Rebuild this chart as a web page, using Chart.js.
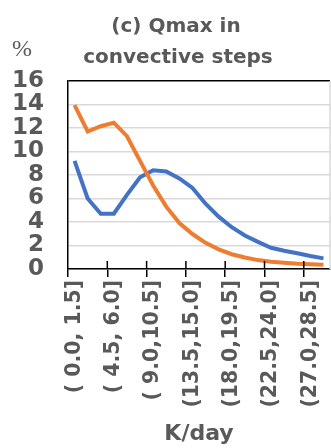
<!DOCTYPE html>
<html>
<head>
<meta charset="utf-8">
<script src="https://cdn.jsdelivr.net/npm/chart.js@4"></script>
<style>
  html, body { margin: 0; padding: 0; background: #fff; }
</style>
</head>
<body>
<canvas id="qmaxChart" width="331" height="448"></canvas>
<script>
const binLabels = [
  '( 0.0, 1.5]', '( 1.5, 3.0]', '( 3.0, 4.5]', '( 4.5, 6.0]', '( 6.0, 7.5]',
  '( 7.5, 9.0]', '( 9.0,10.5]', '(10.5,12.0]', '(12.0,13.5]', '(13.5,15.0]',
  '(15.0,16.5]', '(16.5,18.0]', '(18.0,19.5]', '(19.5,21.0]', '(21.0,22.5]',
  '(22.5,24.0]', '(24.0,25.5]', '(25.5,27.0]', '(27.0,28.5]', '(28.5,30.0]'
];
const blueValues = [9.2, 6.0, 4.7, 4.7, 6.3, 7.8, 8.4, 8.3, 7.7, 6.9,
                    5.55, 4.45, 3.55, 2.85, 2.3, 1.8, 1.55, 1.33, 1.1, 0.9];
const orangeValues = [13.95, 11.7, 12.15, 12.45, 11.3, 9.2, 7.1, 5.3, 3.9, 2.97,
                      2.22, 1.67, 1.25, 0.97, 0.75, 0.61, 0.52, 0.44, 0.39, 0.36];
const yTicks = [0, 2, 4, 6, 8, 10, 12, 14, 16];

const gray = '#595959';
const tickEvery = 3;

// title and unit drawn by hand so they sit where the original has them
const headerText = {
  id: 'headerText',
  afterDraw(chart) {
    const ctx = chart.ctx;
    ctx.save();
    ctx.fillStyle = gray;
    ctx.textAlign = 'center';
    ctx.textBaseline = 'alphabetic';
    ctx.font = 'bold 20px "DejaVu Sans"';
    ctx.fillText('(c) Qmax in', 176, 32);
    ctx.fillText('convective steps', 178, 63);
    ctx.font = '24px "Liberation Serif"';
    ctx.fillText('%', 22, 56);
    ctx.restore();
  }
};

// tick marks cross the axis, plus light right border
const axisExtras = {
  id: 'axisExtras',
  afterDatasetsDraw(chart) {
    const { ctx, chartArea, scales } = chart;
    const x = scales.x;
    ctx.save();
    ctx.strokeStyle = '#d9d9d9';
    ctx.lineWidth = 1.5;
    ctx.beginPath();
    ctx.moveTo(chartArea.right, chartArea.top);
    ctx.lineTo(chartArea.right, chartArea.bottom);
    ctx.stroke();
    ctx.strokeStyle = '#000';
    binLabels.forEach((lab, i) => {
      if (i === 0 || i % tickEvery) return;
      const px = x.getPixelForValue(i - 0.5);
      ctx.beginPath();
      ctx.moveTo(px, chartArea.bottom - 8);
      ctx.lineTo(px, chartArea.bottom);
      ctx.stroke();
    });
    ctx.restore();
  }
};

const ctx = document.getElementById('qmaxChart').getContext('2d');

new Chart(ctx, {
  type: 'line',
  data: {
    labels: binLabels,
    datasets: [{
      label: 'orange',
      data: orangeValues,
      borderColor: '#ED7D31',
      borderWidth: 4,
      pointRadius: 0,
      order: 0
    }, {
      label: 'blue',
      data: blueValues,
      borderColor: '#4472C4',
      borderWidth: 4,
      pointRadius: 0,
      order: 1
    }]
  },
  options: {
    responsive: false,
    animation: false,
    devicePixelRatio: 1,
    layout: { padding: { top: 81, left: 12, right: 1, bottom: 1 } },
    plugins: {
      legend: { display: false },
      tooltip: { enabled: false }
    },
    scales: {
      x: {
        offset: true,
        afterFit: axis => { axis.paddingLeft = 0; axis.paddingRight = 0; },
        grid: {
          offset: true,
          drawOnChartArea: false,
          drawTicks: true,
          tickLength: 8,
          lineWidth: 1.5,
          color: c => c.index % tickEvery === 0 ? '#000' : 'rgba(0,0,0,0)',
          tickColor: c => c.index % tickEvery === 0 ? '#000' : 'rgba(0,0,0,0)'
        },
        border: { color: '#000', width: 1.5 },
        ticks: {
          autoSkip: false,
          minRotation: 90,
          maxRotation: 90,
          padding: 3,
          color: gray,
          font: { family: 'DejaVu Sans', size: 20.5, weight: 'bold' },
          callback: (v, i) => i % tickEvery === 0 ? binLabels[i] : ''
        },
        title: {
          display: true,
          text: 'K/day',
          color: gray,
          font: { family: 'DejaVu Sans', size: 22, weight: 'bold' },
          padding: { top: 10, bottom: 0 }
        }
      },
      y: {
        min: 0,
        max: 16,
        afterBuildTicks: axis => { axis.ticks = yTicks.map(v => ({ value: v })); },
        afterFit: axis => { axis.width = 56; },
        grid: {
          drawTicks: false,
          lineWidth: 1.5,
          color: c => c.tick && c.tick.value === 16 ? '#000' : '#d9d9d9'
        },
        border: { color: '#000', width: 1.5 },
        ticks: {
          autoSkip: false,
          padding: 24,
          color: gray,
          font: { family: 'DejaVu Sans', size: 23, weight: 'bold' }
        }
      }
    }
  },
  plugins: [headerText, axisExtras]
});
</script>
</body>
</html>
